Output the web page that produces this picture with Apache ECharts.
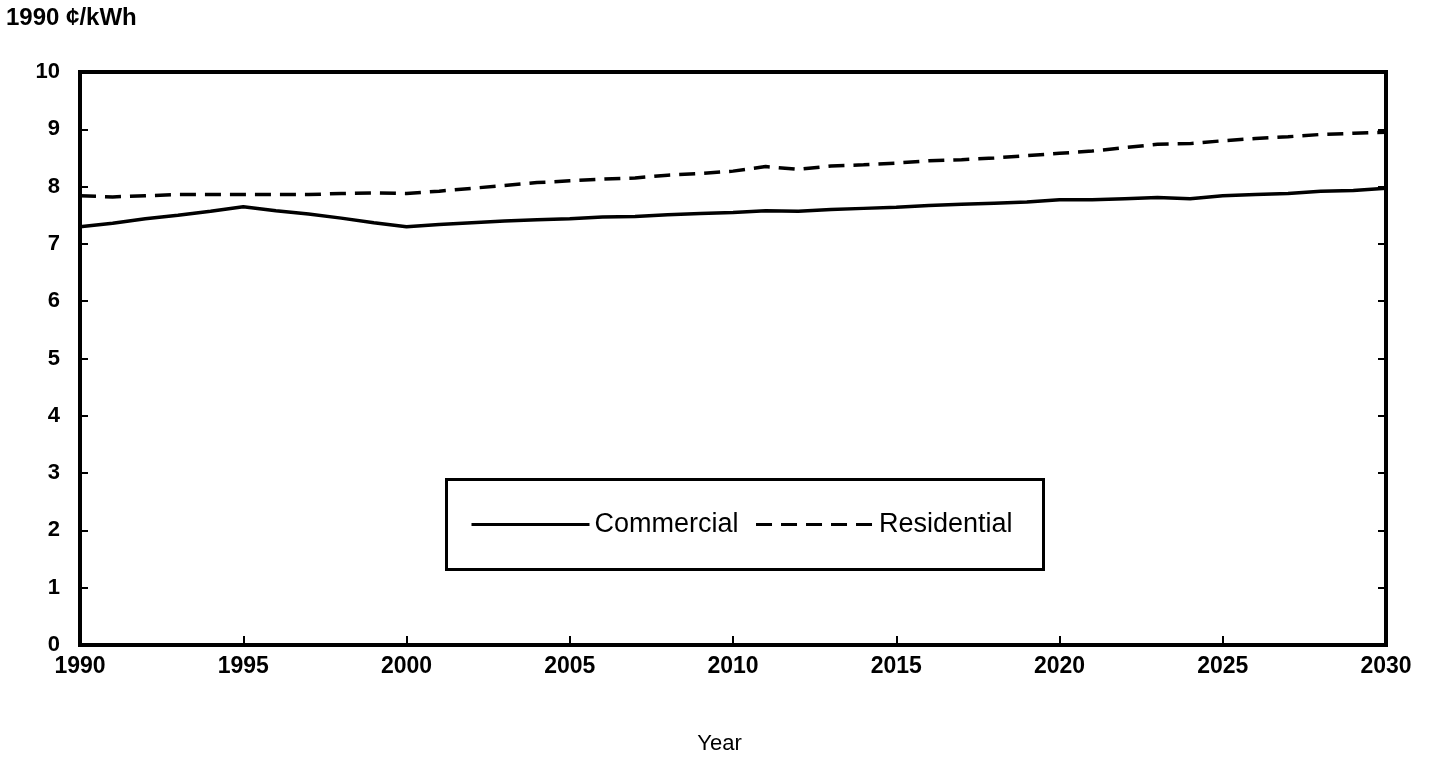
<!DOCTYPE html>
<html>
<head>
<meta charset="utf-8">
<script src="https://cdn.jsdelivr.net/npm/echarts@6/dist/echarts.min.js"></script>
<style>
  html, body { margin: 0; padding: 0; background: #fff; }
  #chart { width: 1439px; height: 766px; }
</style>
</head>
<body>
<div id="chart"></div>
<script>
const years = [];
for (let y = 1990; y <= 2030; y++) years.push(y);

const commercial = [
  7.30, 7.36, 7.44, 7.50, 7.57, 7.65, 7.58, 7.52, 7.45, 7.37,
  7.30, 7.34, 7.37, 7.40, 7.42, 7.44, 7.47, 7.48, 7.51, 7.53,
  7.55, 7.58, 7.57, 7.60, 7.62, 7.64, 7.67, 7.69, 7.71, 7.73,
  7.77, 7.77, 7.79, 7.81, 7.79, 7.84, 7.86, 7.88, 7.92, 7.93,
  7.97
];
const residential = [
  7.84, 7.82, 7.84, 7.86, 7.86, 7.86, 7.86, 7.86, 7.88, 7.89,
  7.88, 7.92, 7.97, 8.02, 8.07, 8.10, 8.13, 8.15, 8.20, 8.23,
  8.27, 8.35, 8.30, 8.36, 8.38, 8.41, 8.45, 8.47, 8.50, 8.54,
  8.58, 8.62, 8.68, 8.74, 8.75, 8.80, 8.84, 8.87, 8.91, 8.93,
  8.95
];

const font = '"Liberation Sans", Arial, sans-serif';
const chart = echarts.init(document.getElementById('chart'));

const option = {
  backgroundColor: '#fff',
  animation: false,
  textStyle: { fontFamily: font, color: '#000' },
  grid: {
    left: 80, right: 53, top: 72, bottom: 121,
    show: true, borderColor: '#000', borderWidth: 4, backgroundColor: 'transparent'
  },
  graphic: [
    {
      type: 'text', left: 6, top: 6,
      style: { text: '1990 ¢/kWh', font: 'bold 24px ' + font, fill: '#000' }
    },
    {
      type: 'text', left: 'center', top: 733,
      style: { text: 'Year', font: '22px ' + font, fill: '#000' }
    },
    {
      type: 'rect', left: 445, top: 478, z: 10,
      shape: { width: 597, height: 90 },
      style: { fill: '#fff', stroke: '#000', lineWidth: 3 }
    }
  ],
  legend: {
    left: 465, top: 506, z: 20,
    itemWidth: 118, itemHeight: 16, itemGap: 16,
    itemStyle: { opacity: 0 },
    lineStyle: { width: 3 },
    textStyle: { fontFamily: font, fontSize: 27, color: '#000' },
    data: ['Commercial', 'Residential']
  },
  xAxis: {
    type: 'value', min: 1990, max: 2030, interval: 5,
    axisLine: { show: false },
    axisTick: { show: true, inside: true, length: 9, lineStyle: { color: '#000', width: 2 } },
    splitLine: { show: false },
    axisLabel: {
      margin: 10, fontSize: 23, fontWeight: 'bold', color: '#000', fontFamily: font,
      formatter: v => String(v)
    }
  },
  yAxis: [
    {
      type: 'value', min: 0, max: 10, interval: 1,
      axisLine: { show: false },
      axisTick: { show: true, inside: true, length: 8, lineStyle: { color: '#000', width: 2 } },
      splitLine: { show: false },
      axisLabel: { margin: 20, fontSize: 22, fontWeight: 'bold', color: '#000', fontFamily: font }
    },
    {
      type: 'value', min: 0, max: 10, interval: 1, position: 'right',
      axisLine: { show: false },
      axisTick: { show: true, inside: true, length: 8, lineStyle: { color: '#000', width: 2 } },
      splitLine: { show: false },
      axisLabel: { show: false }
    }
  ],
  series: [
    {
      name: 'Commercial', type: 'line', showSymbol: false, symbol: 'none',
      data: years.map((y, i) => [y, commercial[i]]),
      lineStyle: { color: '#000', width: 3.5, type: 'solid' },
      itemStyle: { color: '#000' }
    },
    {
      name: 'Residential', type: 'line', showSymbol: false, symbol: 'none',
      data: years.map((y, i) => [y, residential[i]]),
      lineStyle: { color: '#000', width: 3.5, type: [16, 9] },
      itemStyle: { color: '#000' }
    }
  ]
};

chart.setOption(option);
</script>
</body>
</html>
